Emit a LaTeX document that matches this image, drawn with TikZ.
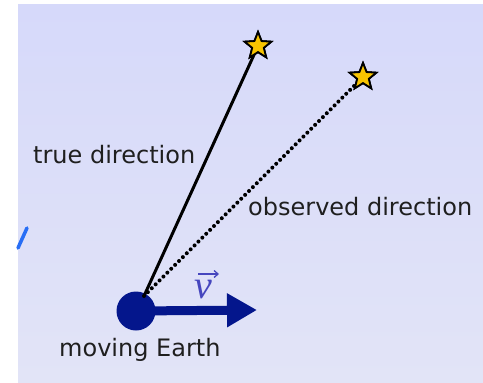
\documentclass[tikz,border=0pt]{standalone}
\usepackage{fontspec}
\setmainfont{DejaVu Sans}
\newfontfamily\vfont{Liberation Serif}
\usetikzlibrary{shapes.geometric,arrows.meta}
\definecolor{bgtop}{RGB}{214,217,250}
\definecolor{bgbot}{RGB}{226,228,247}
\definecolor{earthblue}{RGB}{4,22,140}
\definecolor{starfill}{RGB}{248,196,0}
\definecolor{vcol}{RGB}{70,70,190}
\definecolor{tickblue}{RGB}{40,110,245}
\tikzset{
  starnode/.style={star, star points=5, star point ratio=2.3, minimum size=28pt, inner sep=0pt, fill=starfill, draw=black, line width=1.8pt},
  lbl/.style={font=\fontsize{24}{28}\selectfont, text=black!88, inner sep=0pt},
  truel/.style={line width=3pt, black},
  obsl/.style={line width=4pt, black, dash pattern=on 0pt off 5.5pt, line cap=round}
}
\begin{document}
\begin{tikzpicture}[x=1pt,y=-1pt]
\useasboundingbox (0,0) rectangle (483,383);
\fill[white] (0,0) rectangle (483,383);
\shade[top color=bgtop, bottom color=bgbot] (18,4) rectangle (483,383);
\draw[tickblue, line width=3.5pt, line cap=round] (18,248) -- (27,228);
% earth
\node[circle, fill=earthblue, minimum size=39pt, inner sep=0pt] (earth) at (136,311) {};
\coordinate (o) at (144,296);
\node[starnode] (s1) at (258,46) {};
\node[starnode] (s2) at (363,77) {};
\draw[truel] (o) -- (s1.center);
\draw[obsl] (o) -- (s2.center);
\node[starnode] at (258,46) {};
\node[starnode] at (363,77) {};
\coordinate (vend) at (257,310);
\draw[earthblue, line width=9pt, -{Triangle[length=30pt, width=32pt]}] (earth.center) -- (vend);
\node[text=vcol, inner sep=0pt, font=\vfont\itshape\fontsize{40}{40}\selectfont] (v) at (203,290) {v};
\coordinate (va) at (198,274);
\coordinate (vb) at (219,274);
\draw[vcol, line width=1.3pt, -{Straight Barb[length=4pt, width=7pt]}] (va) -- (vb);
\node[lbl, anchor=west] (tl) at (33,155) {true direction};
\node[lbl, anchor=west] (ol) at (248,207) {observed direction};
\node[lbl, anchor=west] (el) at (59,350) {moving Earth};
\end{tikzpicture}
\end{document}
